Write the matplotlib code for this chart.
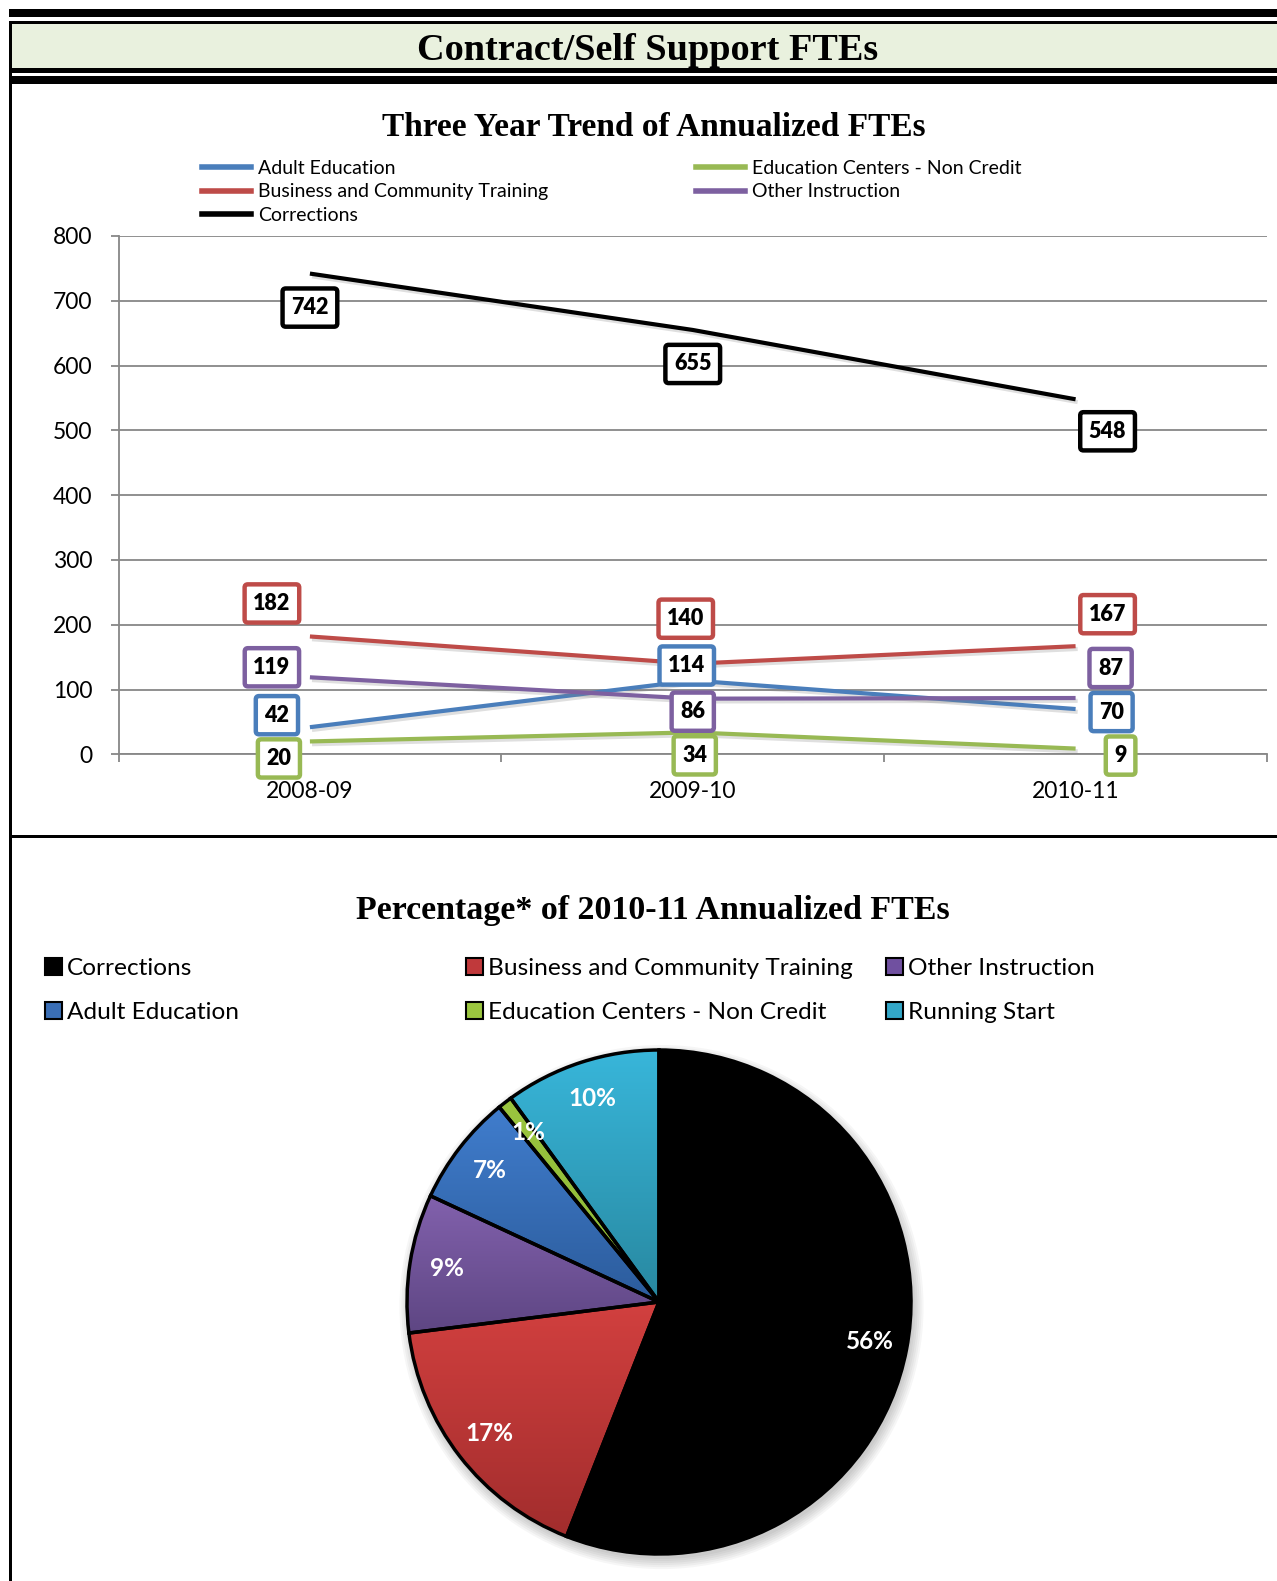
import numpy as np
import matplotlib
matplotlib.use("Agg")
import matplotlib.pyplot as plt
import matplotlib.patheffects as pe
from matplotlib.patches import Rectangle, Patch, Circle
from matplotlib.lines import Line2D
from matplotlib.colors import LinearSegmentedColormap

plt.rcParams["font.family"] = ["Lato", "DejaVu Sans"]

# data
years = ["2008-09", "2009-10", "2010-11"]
series_names = ["Adult Education", "Business and Community Training", "Corrections",
                "Education Centers - Non Credit", "Other Instruction"]
adult_ed = [42, 114, 70]
business = [182, 140, 167]
corrections = [742, 655, 548]
ed_centers = [20, 34, 9]
other_instr = [119, 86, 87]

pie_labels = ["Corrections", "Business and Community Training", "Other Instruction",
              "Adult Education", "Education Centers - Non Credit", "Running Start"]
pie_fte = [548, 167, 87, 70, 9, 98]

# styles
line_colors = ["#4A7EBB", "#BE4B48", "#000000", "#98B954", "#7D60A0"]
# data label offsets in pixels (dx, dy)
label_offsets = [
    [(-33, 12), (-6, 15), (36, -3)],
    [(-38, 33), (-7, 45), (32, 32)],
    [(0, -34), (0, -34), (32, -32)],
    [(-31, -17), (2, -23), (45, -7)],
    [(-38, 10), (0, -13), (35, 30)],
]
pie_top = ["#000000", "#D2403F", "#8261AD", "#407DCD", "#9BC63F", "#38B6DA"]
pie_bot = ["#000000", "#A22D2D", "#5E4683", "#2C5C9C", "#8BB536", "#2888A0"]
pie_mid = ["#000000", "#C0393B", "#7050A0", "#3A6EB5", "#9BC63F", "#33A7C8"]
grid_gray = "#878787"

W, H = 1277, 1581
fig = plt.figure(figsize=(W / 100, H / 100), dpi=100)


def band(x0, y0, x1, y1, color):
    fig.add_artist(Rectangle((x0 / W, 1 - y1 / H), (x1 - x0) / W, (y1 - y0) / H,
                             transform=fig.transFigure, fc=color, ec="none", zorder=0))


# page frame
band(9, 9, W, 17, "black")
band(9, 21, W, 24, "black")
band(9, 24, W, 68, "#E9F1DE")
band(9, 68, W, 73, "black")
band(9, 76, W, 84, "black")
band(9, 21, 11.5, H, "black")
band(9, 835, W, 838, "black")

fig.text(648 / W, 1 - 50 / H, "Contract/Self Support FTEs", ha="center", va="center",
         fontsize=27.5, fontweight="bold", family="Liberation Serif")

# line chart
ax = fig.add_axes([118.5 / W, 1 - 754.4 / H, (1267 - 118.5) / W, (754.4 - 236) / H])
x = np.arange(len(years))
all_series = [adult_ed, business, corrections, ed_centers, other_instr]
for vals, col, offs in zip(all_series, line_colors, label_offsets):
    ax.plot(x, vals, color=col, lw=3, solid_capstyle="butt", zorder=3,
            path_effects=[pe.SimpleLineShadow(offset=(1.5, -2), alpha=0.25, shadow_color="gray"),
                          pe.Normal()])
    for i, v in enumerate(vals):
        ax.annotate(str(v), (i, v), xytext=offs[i], textcoords="offset pixels",
                    ha="center", va="center", fontsize=15.5, fontweight="heavy", zorder=5,
                    annotation_clip=False,
                    bbox=dict(boxstyle="round,pad=0.4,rounding_size=0.15", fc="white", ec=col, lw=3.2))

ax.set_xlim(-0.5, 2.5)
ax.set_ylim(0, 800)
ax.set_yticks(range(0, 801, 100))
ax.grid(axis="y", color=grid_gray, lw=1.3)
ax.set_axisbelow(True)
for s in ["top", "right"]:
    ax.spines[s].set_visible(False)
for s in ["left", "bottom"]:
    ax.spines[s].set_color(grid_gray)
    ax.spines[s].set_linewidth(1.3)
ax.set_xticks(x, years)
ax.set_xticks([-0.5, 0.5, 1.5, 2.5], minor=True)
ax.tick_params(axis="x", which="major", length=0, pad=19, labelsize=16.5)
ax.tick_params(axis="x", which="minor", length=6, width=1.3, color=grid_gray)
ax.tick_params(axis="y", length=6, width=1.3, color=grid_gray, pad=13, labelsize=16.5)

fig.text(654 / W, 1 - 127 / H, "Three Year Trend of Annualized FTEs", ha="center", va="center",
         fontsize=24, fontweight="bold", family="Liberation Serif")

handles = [Line2D([], [], color=c, lw=4) for c in line_colors]
leg_kw = dict(loc="upper left", frameon=False, fontsize=14, handlelength=2.5, handletextpad=0.4,
              labelspacing=0.33, borderpad=0, borderaxespad=0)
fig.legend(handles[:3], series_names[:3], bbox_to_anchor=(202 / W, 1 - 160 / H), **leg_kw)
fig.legend(handles[3:], series_names[3:], bbox_to_anchor=(696 / W, 1 - 160 / H), **leg_kw)

# pie chart
fig.text(653 / W, 1 - 910 / H, "Percentage* of 2010-11 Annualized FTEs", ha="center", va="center",
         fontsize=24.5, fontweight="bold", family="Liberation Serif")

cx, cy, half = 659, 1302, 315
pax = fig.add_axes([(cx - half) / W, 1 - (cy + half) / H, 2 * half / W, 2 * half / H])
for k in range(6):
    pax.add_patch(Circle((0.01, -0.02), 1.0 + 0.008 * k, fc="black", alpha=0.035, ec="none", zorder=0))
wedges, texts, autotexts = pax.pie(pie_fte, startangle=90, counterclock=False, colors=pie_mid,
                                   autopct="%.0f%%", pctdistance=0.85,
                                   wedgeprops=dict(ec="black", lw=2.5),
                                   textprops=dict(color="white", fontsize=17.5, fontweight="bold"))
grad = np.linspace(0, 1, 256).reshape(-1, 1)
for w, ct, cb in zip(wedges, pie_top, pie_bot):
    bb = w.get_path().get_extents()
    cmap = LinearSegmentedColormap.from_list("g", [ct, cb])
    im = pax.imshow(grad, extent=(bb.x0, bb.x1, bb.y0, bb.y1), origin="upper", cmap=cmap,
                    aspect="auto", zorder=1)
    im.set_clip_path(w)
    w.set_facecolor("none")
    w.set_zorder(2)
for t in autotexts:
    t.set_zorder(4)
pax.set_xlim(-1.25, 1.25)
pax.set_ylim(-1.25, 1.25)
pax.set_aspect("equal")
pax.axis("off")

pie_handles = [Patch(facecolor=c, edgecolor="black", lw=1.5) for c in pie_mid]
pleg_kw = dict(loc="upper left", frameon=False, fontsize=17.6, handlelength=0.7, handleheight=0.7,
               handletextpad=0.2, labelspacing=0.95, borderpad=0, borderaxespad=0)
for cols, x0 in zip([[0, 3], [1, 4], [2, 5]], [45, 466, 886]):
    fig.legend([pie_handles[i] for i in cols], [pie_labels[i] for i in cols],
               bbox_to_anchor=(x0 / W, 1 - 958 / H), **pleg_kw)

fig.savefig("out.png", dpi=100)
